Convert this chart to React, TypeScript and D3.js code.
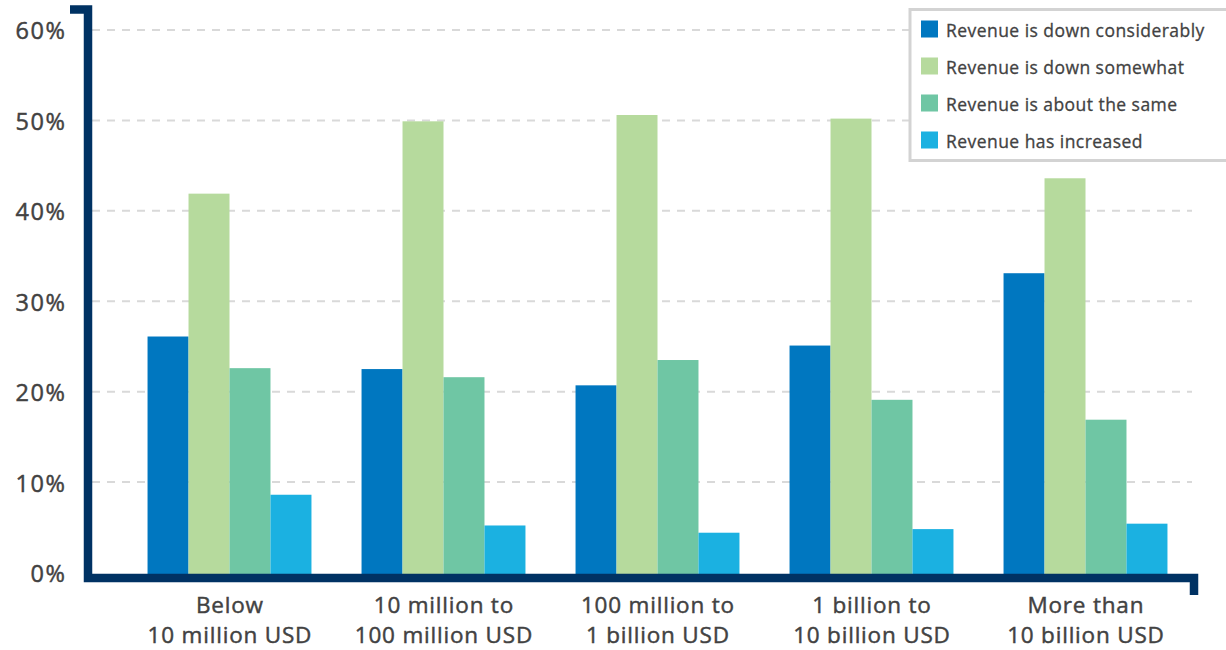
import React from "react";
import * as d3 from "d3";

const categories = [
  ["Below", "10 million USD"],
  ["10 million to", "100 million USD"],
  ["100 million to", "1 billion USD"],
  ["1 billion to", "10 billion USD"],
  ["More than", "10 billion USD"],
];
const seriesNames = [
  "Revenue is down considerably",
  "Revenue is down somewhat",
  "Revenue is about the same",
  "Revenue has increased",
];
const downConsiderably = [26.1, 22.5, 20.7, 25.1, 33.1];
const downSomewhat = [41.9, 49.9, 50.6, 50.2, 43.6];
const aboutSame = [22.6, 21.6, 23.5, 19.1, 16.9];
const increased = [8.6, 5.2, 4.4, 4.8, 5.4];
const yTicks = [0, 10, 20, 30, 40, 50, 60];
const colors = ["#0077C0", "#B6DA9D", "#6FC6A4", "#1BB1E1"];

const W = 1226;
const H = 650;
const font = "'Open Sans', Lato, sans-serif";
const textColor = "#424242";
const navy = "#003263";

export default function App() {
  const series = [downConsiderably, downSomewhat, aboutSame, increased];
  const groupKeys = categories.map((_, i) => String(i));
  const x0 = d3
    .scaleBand<string>()
    .domain(groupKeys)
    .range([122.5, 1192.5])
    .paddingInner(0.234)
    .paddingOuter(0.117);
  const x1 = d3
    .scaleBand<string>()
    .domain(seriesNames)
    .range([0, x0.bandwidth()])
    .padding(0);
  const y = d3.scaleLinear().domain([0, 60]).range([572.5, 30]);

  const ySpacing = 1.6;
  const xSpacing = 0.8;
  const lSpacing = 0.45;

  return (
    <svg
      width={W}
      height={H}
      style={{ position: "absolute", left: 0, top: 0, background: "#fff" }}
      fontFamily={font}
      fontWeight={500}
    >
      {/* gridlines */}
      {yTicks
        .filter((t) => t > 0)
        .map((t) => (
          <line
            key={t}
            x1={92}
            x2={1192}
            y1={y(t)}
            y2={y(t)}
            stroke="#d9d9d9"
            strokeWidth={2}
            strokeDasharray="8 7"
          />
        ))}
      {/* bars */}
      {groupKeys.map((g, gi) => (
        <g key={g} transform={`translate(${x0(g)},0)`}>
          {seriesNames.map((s, si) => {
            const v = series[si][gi];
            return (
              <rect
                key={s}
                x={x1(s)}
                y={y(v)}
                width={x1.bandwidth()}
                height={574 - y(v)}
                fill={colors[si]}
              />
            );
          })}
        </g>
      ))}
      {/* axes */}
      <path
        d={`M70,9.5 H88 V578 H1194 V595`}
        fill="none"
        stroke={navy}
        strokeWidth={8.5}
        strokeLinejoin="miter"
      />
      <g fill={textColor} stroke={textColor} strokeWidth={0.45}>
        {/* y tick labels */}
        {yTicks.map((t) => (
          <text
            key={t}
            x={65 + ySpacing}
            y={y(t) + 1}
            dy="0.36em"
            textAnchor="end"
            fontSize={23.5}
            letterSpacing={ySpacing}
          >
            {`${t}%`}
          </text>
        ))}
        {/* x labels */}
        {categories.map((c, i) => {
          const cx =
            (x0(String(i)) as number) + x0.bandwidth() / 2 + xSpacing / 2;
          return (
            <text
              key={i}
              textAnchor="middle"
              fontSize={22.5}
              letterSpacing={xSpacing}
            >
              <tspan x={cx} y={613}>
                {c[0]}
              </tspan>
              <tspan x={cx} y={643}>
                {c[1]}
              </tspan>
            </text>
          );
        })}
      </g>
      {/* legend */}
      <rect
        x={910}
        y={9.5}
        width={330}
        height={151}
        fill="#fff"
        stroke="#d3d3d3"
        strokeWidth={3}
      />
      {seriesNames.map((s, i) => (
        <g key={s} transform={`translate(921,${20.5 + i * 37})`}>
          <rect width={17} height={17} fill={colors[i]} />
          <text
            x={25}
            y={10}
            dy="0.36em"
            fontSize={17.5}
            letterSpacing={lSpacing}
            fill={textColor}
            stroke={textColor}
            strokeWidth={0.3}
          >
            {s}
          </text>
        </g>
      ))}
    </svg>
  );
}
